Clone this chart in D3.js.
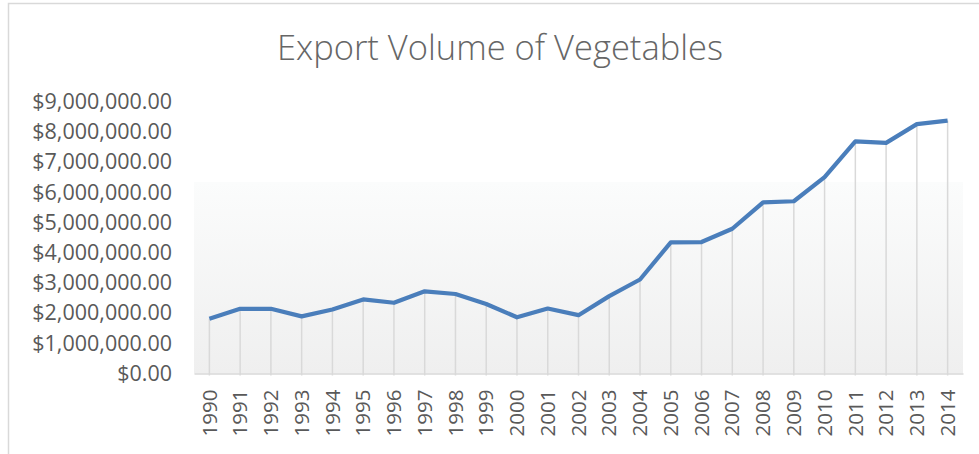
<!DOCTYPE html>
<html>
<head>
<meta charset="utf-8">
<script src="https://cdn.jsdelivr.net/npm/d3@7"></script>
<style>
  body { margin: 0; background: #fff; }
  text { font-family: "Open Sans", sans-serif; fill: #595959; }
</style>
</head>
<body>
<svg id="chart" width="979" height="454"></svg>
<script>
// data
var years = ['1990','1991','1992','1993','1994','1995','1996','1997','1998','1999','2000','2001','2002',
             '2003','2004','2005','2006','2007','2008','2009','2010','2011','2012','2013','2014'];
var exportVolume = [1810000, 2140000, 2140000, 1890000, 2120000, 2450000, 2340000, 2720000, 2630000, 2300000,
                    1860000, 2150000, 1930000, 2560000, 3110000, 4340000, 4350000, 4790000, 5660000, 5700000,
                    6500000, 7680000, 7630000, 8250000, 8370000];
var yTicks = [0, 1000000, 2000000, 3000000, 4000000, 5000000, 6000000, 7000000, 8000000, 9000000];
var title = 'Export Volume of Vegetables';

var svg = d3.select('#chart');

// chart frame (only top + left edges show in the crop)
svg.append('path')
  .attr('d', 'M8.5,454 V3.5 H979')
  .attr('fill', 'none')
  .attr('stroke', '#d9d9d9')
  .attr('stroke-width', 1.5);

var plot = {left: 194, right: 963, top: 101.5, bottom: 373.5};

var x = d3.scaleBand().domain(years).range([plot.left, plot.right]);
var y = d3.scaleLinear().domain([0, 9000000]).range([plot.bottom, plot.top]);

// soft gradient behind the plot
var grad = svg.append('defs').append('linearGradient')
  .attr('id', 'bg').attr('x1', 0).attr('y1', 0).attr('x2', 0).attr('y2', 1);
grad.append('stop').attr('offset', '0%').attr('stop-color', '#fbfcfc');
grad.append('stop').attr('offset', '100%').attr('stop-color', '#efefef');
svg.append('rect')
  .attr('x', plot.left).attr('y', 182)
  .attr('width', plot.right - plot.left).attr('height', plot.bottom - 182)
  .attr('fill', 'url(#bg)');

// title
svg.append('text')
  .attr('x', 500).attr('y', 60)
  .attr('text-anchor', 'middle')
  .style('font-size', '34.5px')
  .style('font-weight', 300)
  .style('fill', '#666')
  .text(title);

// y axis labels
var fmt = d3.format('$,.2f');
var yAxis = d3.axisLeft(y).tickValues(yTicks).tickFormat(fmt).tickSize(0).tickPadding(0);
var gy = svg.append('g').attr('transform', 'translate(172,0)').call(yAxis);
gy.select('.domain').remove();
gy.selectAll('text').style('font-size', '21.5px').attr('fill', '#595959').style('font-family', '"Open Sans", sans-serif');

// drop lines from each point to the baseline
svg.append('g').selectAll('line')
  .data(exportVolume)
  .join('line')
  .attr('x1', function(d, i) { return x(years[i]) + x.bandwidth() / 2; })
  .attr('x2', function(d, i) { return x(years[i]) + x.bandwidth() / 2; })
  .attr('y1', function(d) { return y(d); })
  .attr('y2', plot.bottom + 2)
  .attr('stroke', '#d9d9d9')
  .attr('stroke-width', 1.5);

// x axis baseline
var xAxis = d3.axisBottom(x).tickSize(0).tickPadding(0);
var gx = svg.append('g').attr('transform', 'translate(0,' + plot.bottom + ')').call(xAxis);
gx.select('.domain').attr('stroke', '#d9d9d9').attr('stroke-width', 1.5);
gx.selectAll('text')
  .attr('transform', 'rotate(-90)')
  .attr('x', -16).attr('y', 0).attr('dy', '0.35em')
  .attr('text-anchor', 'end')
  .attr('fill', '#595959')
  .style('font-size', '20.5px')
  .style('font-family', '"Open Sans", sans-serif');

// the series line
var line = d3.line()
  .x(function(d, i) { return x(years[i]) + x.bandwidth() / 2; })
  .y(function(d) { return y(d); });

svg.append('path')
  .datum(exportVolume)
  .attr('d', line)
  .attr('fill', 'none')
  .attr('stroke', '#4a7ebb')
  .attr('stroke-width', 4.2)
  .attr('stroke-linejoin', 'round');
</script>
</body>
</html>
